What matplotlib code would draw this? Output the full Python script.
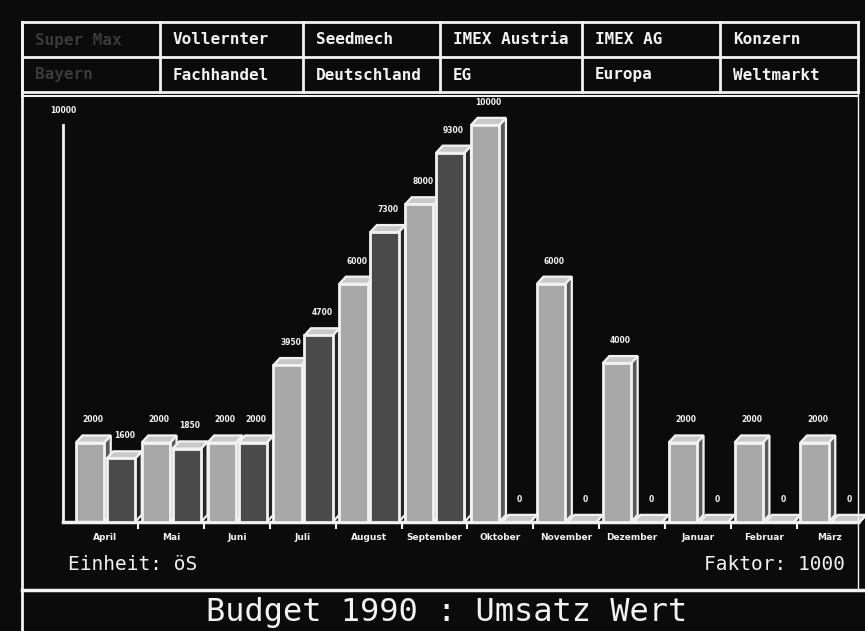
import numpy as np
import matplotlib
matplotlib.use("Agg")
import matplotlib.pyplot as plt
from matplotlib.patches import Polygon
from matplotlib.lines import Line2D

# -------------------------------
# DATA
# -------------------------------
months = ["April", "Mai", "Juni", "Juli", "August", "September", "Oktober",
          "November", "Dezember", "Januar", "Februar", "März"]
budget_a = [2000, 2000, 2000, 3950, 6000, 8000, 10000, 6000, 4000, 2000, 2000, 2000]
budget_b = [1600, 1850, 2000, 4700, 7300, 9300, 0, 0, 0, 0, 0, 0]
header_row1 = ["Super Max", "Vollernter", "Seedmech", "IMEX Austria", "IMEX AG", "Konzern"]
header_row2 = ["Bayern", "Fachhandel", "Deutschland", "EG", "Europa", "Weltmarkt"]
y_max = 10000

BG = "#0b0b0b"
FG = "#f2f2f2"
MONO = "DejaVu Sans Mono"

W, H = 865, 631
fig = plt.figure(figsize=(W / 100, H / 100), dpi=100, facecolor=BG)


def px(x, y):
    return x / W, 1 - y / H


# -------------------------------
# FRAME + HEADER TABLE
# -------------------------------
def hline(y, x0, x1, lw=2):
    fig.add_artist(Line2D([x0 / W, x1 / W], [1 - y / H, 1 - y / H], color=FG, lw=lw))


def vline(x, y0, y1, lw=2):
    fig.add_artist(Line2D([x / W, x / W], [1 - y0 / H, 1 - y1 / H], color=FG, lw=lw))


col_x = [22, 160, 303, 440, 582, 720, 858]
hline(22, 22, 858)
hline(57, 22, 858)
hline(92, 22, 858)
hline(96, 22, 858, lw=1.5)
for cx in col_x:
    vline(cx, 22, 92)
vline(22, 22, 631)
vline(858, 92, 590, lw=1)
hline(590, 22, 865, lw=2.5)

for i, (t1, t2) in enumerate(zip(header_row1, header_row2)):
    col = "#3a3a3a" if i == 0 else FG
    fig.text(*px(col_x[i] + 13, 40), t1, color=col, fontsize=11.5,
             family=MONO, weight="bold", va="center", ha="left")
    fig.text(*px(col_x[i] + 13, 75), t2, color=col, fontsize=11.5,
             family=MONO, weight="bold", va="center", ha="left")

# -------------------------------
# CHART
# -------------------------------
ax = fig.add_axes([63 / W, 1 - 522 / H, (858 - 63) / W, (522 - 125) / H])
ax.set_facecolor(BG)
ax.set_xlim(-0.64, 11.43)
ax.set_ylim(0, y_max)

x = np.arange(len(months))
width = 0.43
dx = 0.1
dy = 180

z = 2
for i in range(len(months)):
    for off, vals, face, side in [(-0.23, budget_a, "#a8a8a8", "#5a5a5a"),
                                  (0.24, budget_b, "#4a4a4a", "#252525")]:
        v = vals[i]
        x0 = x[i] + off - width / 2
        x1 = x0 + width
        ax.add_patch(Polygon([(x1, 0), (x1 + dx, dy), (x1 + dx, v + dy), (x1, v)],
                             closed=True, fc=side, ec=FG, lw=1.6, zorder=z, clip_on=False))
        ax.add_patch(Polygon([(x0, v), (x0 + dx, v + dy), (x1 + dx, v + dy), (x1, v)],
                             closed=True, fc="#c8c8c8", ec=FG, lw=1.6, zorder=z, clip_on=False))
        ax.bar(x[i] + off, v, width=width, color=face, edgecolor=FG, linewidth=2,
               zorder=z + 0.5, clip_on=False)
        ax.text(x[i] + off + dx / 2, v + dy + 280, f"{v}", color=FG, fontsize=5.5,
                weight="bold", ha="center", va="bottom", zorder=z + 1)
        z += 2

ax.set_xticks(x[:-1] + 0.5)
ax.set_xticklabels([])
ax.tick_params(axis="x", colors=FG, length=5, width=1.5, direction="out")
ax.set_yticks([])
for s in ["top", "right"]:
    ax.spines[s].set_visible(False)
ax.spines["left"].set_color(FG)
ax.spines["left"].set_linewidth(2)
ax.spines["bottom"].set_color(FG)
ax.spines["bottom"].set_linewidth(2.5)

for i, m in enumerate(months):
    ax.text(x[i], -380, m, color=FG, fontsize=6.5, weight="bold",
            ha="center", va="center")

ax.text(-0.64, y_max + 250, f"{y_max}", color=FG, fontsize=5.5, weight="bold",
        ha="center", va="bottom")

# -------------------------------
# FOOTER TEXT
# -------------------------------
fig.text(*px(68, 565), "Einheit: öS", color=FG, fontsize=14, family=MONO,
         ha="left", va="center")
fig.text(*px(845, 565), "Faktor: 1000", color=FG, fontsize=14, family=MONO,
         ha="right", va="center")
fig.text(*px(447, 612), "Budget 1990 : Umsatz Wert", color=FG, fontsize=23,
         family=MONO, ha="center", va="center")

fig.savefig("out.png", dpi=100, facecolor=BG)
